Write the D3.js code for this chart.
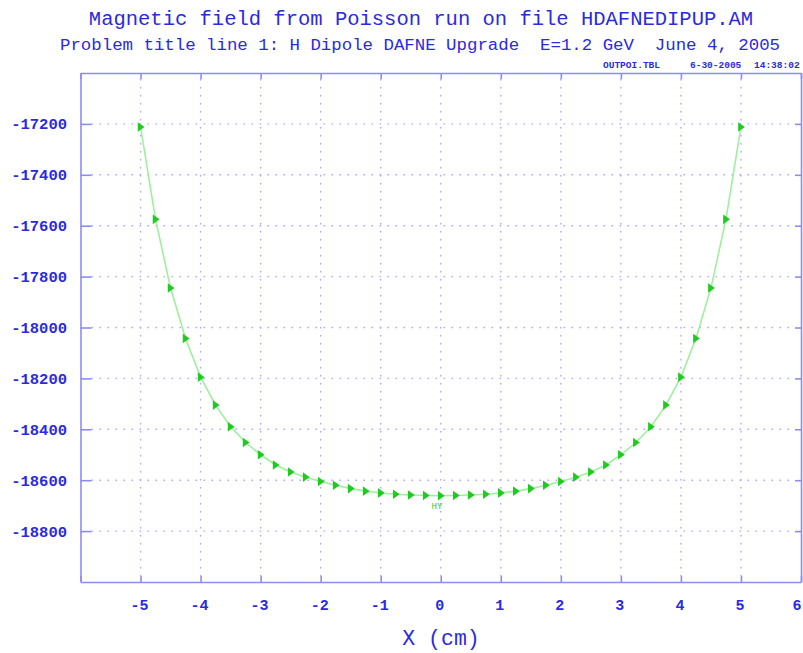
<!DOCTYPE html>
<html>
<head>
<meta charset="utf-8">
<script src="https://cdn.jsdelivr.net/npm/d3@7"></script>
<style>
  body { margin: 0; background: #fff; }
  svg { display: block; font-family: "Liberation Mono", "DejaVu Sans Mono", monospace; }
</style>
</head>
<body>
<div id="chart"></div>
<script>
// Hy field along X (cm)
const xValues = [
  -5, -4.75, -4.5, -4.25, -4, -3.75, -3.5, -3.25, -3, -2.75, -2.5,
  -2.25, -2, -1.75, -1.5, -1.25, -1, -0.75, -0.5, -0.25, 0,
  0.25, 0.5, 0.75, 1, 1.25, 1.5, 1.75, 2, 2.25, 2.5,
  2.75, 3, 3.25, 3.5, 3.75, 4, 4.25, 4.5, 4.75, 5
];
const hyValues = [
  -17212, -17575, -17845, -18043, -18195, -18305, -18390, -18452, -18500, -18540, -18568,
  -18588, -18605, -18620, -18633, -18643, -18650, -18655, -18658, -18660, -18661,
  -18660, -18658, -18655, -18650, -18643, -18633, -18620, -18605, -18588, -18568,
  -18540, -18500, -18452, -18390, -18305, -18195, -18043, -17845, -17575, -17212
];
const xTicks = [-6, -5, -4, -3, -2, -1, 0, 1, 2, 3, 4, 5, 6];
const xLabelTicks = [-5, -4, -3, -2, -1, 0, 1, 2, 3, 4, 5, 6];
const yTicks = [-17200, -17400, -17600, -17800, -18000, -18200, -18400, -18600, -18800];

const W = 803, H = 653;
const plotLeft = 80.5, plotRight = 801, plotTop = 73, plotBottom = 582;
const axisColor = '#8c8cf6';
const textColor = '#2a2ae2';
const gridColor = '#a8a8ff';

const svg = d3.select('#chart').append('svg')
  .attr('width', W).attr('height', H);

const x = d3.scaleLinear().domain([-6, 6]).range([plotLeft, plotRight]);
const y = d3.scaleLinear().domain([-19000, -17000]).range([plotBottom, plotTop]);

// titles
svg.append('text')
  .attr('x', 421).attr('y', 25)
  .attr('text-anchor', 'middle')
  .attr('font-size', 20.5)
  .attr('fill', textColor)
  .text('Magnetic field from Poisson run on file HDAFNEDIPUP.AM');

svg.append('text')
  .attr('x', 420).attr('y', 50)
  .attr('text-anchor', 'middle')
  .attr('font-size', 17.4)
  .attr('fill', textColor)
  .style('white-space', 'pre')
  .text('Problem title line 1: H Dipole DAFNE Upgrade  E=1.2 GeV  June 4, 2005');

const stamp = [['OUTPOI.TBL', 603], ['6-30-2005', 690], ['14:38:02', 754]];
svg.selectAll('.stamp').data(stamp).enter().append('text')
  .attr('class', 'stamp')
  .attr('x', d => d[1]).attr('y', 68)
  .attr('font-size', 9.5).attr('font-weight', 'bold')
  .attr('fill', textColor)
  .text(d => d[0]);

// grid
const grid = svg.append('g')
  .attr('stroke', gridColor).attr('stroke-width', 1.4)
  .attr('stroke-dasharray', '1.5,6.5');

grid.selectAll('.vgrid').data(xTicks.filter(d => d > -6 && d < 6)).enter().append('line')
  .attr('x1', d => x(d)).attr('x2', d => x(d))
  .attr('y1', plotTop + 6).attr('y2', plotBottom - 6);

grid.selectAll('.hgrid').data(yTicks).enter().append('line')
  .attr('x1', plotLeft + 11).attr('x2', plotRight - 6)
  .attr('y1', d => y(d)).attr('y2', d => y(d));

// axes (frame with inward ticks)
function styleAxis(g) {
  g.select('.domain').attr('stroke', axisColor).attr('stroke-width', 1.6);
  g.selectAll('.tick line').attr('stroke', axisColor).attr('stroke-width', 1.6);
  g.selectAll('.tick text').remove();
}

svg.append('g')
  .attr('transform', `translate(0,${plotBottom})`)
  .call(d3.axisBottom(x).tickValues(xTicks).tickSize(-6).tickSizeOuter(0))
  .call(styleAxis);

svg.append('g')
  .attr('transform', `translate(0,${plotTop})`)
  .call(d3.axisTop(x).tickValues(xTicks).tickSize(-6).tickSizeOuter(0))
  .call(styleAxis);

svg.append('g')
  .attr('transform', `translate(${plotLeft},0)`)
  .call(d3.axisLeft(y).tickValues(yTicks).tickSize(-11).tickSizeOuter(0))
  .call(styleAxis);

svg.append('g')
  .attr('transform', `translate(${plotRight},0)`)
  .call(d3.axisRight(y).tickValues(yTicks).tickSize(-6).tickSizeOuter(0))
  .call(styleAxis);

// tick labels
svg.selectAll('.ylab').data(yTicks).enter().append('text')
  .attr('x', 67).attr('y', d => y(d) + 5.5)
  .attr('text-anchor', 'end')
  .attr('font-size', 15.5).attr('font-weight', 'bold')
  .attr('fill', textColor)
  .text(d => d);

// last label sits at the window edge, keep it inside
svg.selectAll('.xlab').data(xLabelTicks).enter().append('text')
  .attr('x', d => Math.min(x(d) - 1, W - 6))
  .attr('y', 610)
  .attr('text-anchor', 'middle')
  .attr('font-size', 15).attr('font-weight', 'bold')
  .attr('fill', textColor)
  .text(d => d);

svg.append('text')
  .attr('x', 441).attr('y', 645)
  .attr('text-anchor', 'middle')
  .attr('font-size', 21.5)
  .attr('fill', textColor)
  .style('white-space', 'pre')
  .text('X (cm)');

// Hy curve
const pts = xValues.map((v, i) => [v, hyValues[i]]);

svg.append('path')
  .datum(pts)
  .attr('fill', 'none')
  .attr('stroke', '#9ef09e')
  .attr('stroke-width', 1.6)
  .attr('d', d3.line().x(d => x(d[0])).y(d => y(d[1])));

svg.selectAll('.mark').data(pts).enter().append('path')
  .attr('transform', d => `translate(${x(d[0])},${y(d[1])})`)
  .attr('d', 'M-2.8,-4.8L4,0L-2.8,4.8Z')
  .attr('fill', '#1ecb1e');

svg.append('text')
  .attr('x', 437).attr('y', 509)
  .attr('text-anchor', 'middle')
  .attr('font-size', 9)
  .attr('fill', '#33c833')
  .text('HY');
</script>
</body>
</html>
